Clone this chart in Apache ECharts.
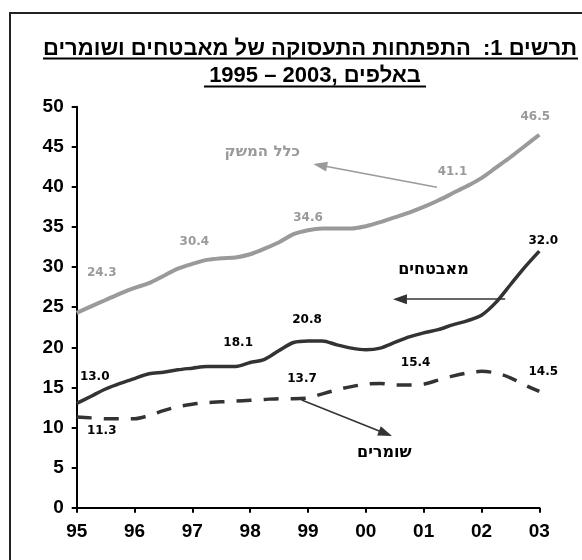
<!DOCTYPE html>
<html><head><meta charset="utf-8">
<script src="https://cdn.jsdelivr.net/npm/echarts@6/dist/echarts.min.js"></script>
<style>html,body{margin:0;padding:0;background:#fff}#c{width:582px;height:560px}</style>
</head><body><div id="c"></div>
<script>
// ---- data ----
const xTickLabels = ['95','96','97','98','99','00','01','02','03'];
const seriesNames = ['כלל המשק','מאבטחים','שומרים'];
const titleLine1 = 'תרשים 1:  התפתחות התעסוקה של מאבטחים ושומרים';
const titleLine2 = '1995 – 2003, באלפים';
// quarterly values, 1995 .. 2003 (33 points)
const totalEconomy = [24.3,25.1,25.9,26.7,27.4,28.0,28.9,29.8,30.4,30.9,31.1,31.2,31.6,32.3,33.1,34.1,34.6,34.8,34.8,34.8,35.1,35.6,36.2,36.8,37.5,38.3,39.2,40.1,41.1,42.4,43.7,45.1,46.5];
const securityGuards = [13.0,13.9,14.8,15.5,16.1,16.7,16.9,17.2,17.4,17.6,17.6,17.6,18.1,18.5,19.6,20.6,20.8,20.8,20.3,19.9,19.7,19.9,20.6,21.3,21.8,22.2,22.8,23.3,24.0,25.6,27.8,30.0,32.0];
const watchmen = [11.3,11.2,11.1,11.1,11.1,11.5,12.1,12.6,12.9,13.1,13.2,13.3,13.4,13.5,13.6,13.6,13.7,14.2,14.7,15.1,15.4,15.5,15.3,15.3,15.4,15.9,16.4,16.8,17.0,16.8,16.2,15.3,14.5];
// indexes of labelled points
const totalLabelIdx = [0,8,16,28,32];
const guardsLabelIdx = [0,12,16,32];
const watchLabelIdx = [0,16,24,32];

// ---- styling / placement ----
const labelOffsets = {
  total: {0:[25,-40],8:[2,-22],16:[0,-12],28:[-29,-6],32:[-4,-18]},
  guards: {0:[18,-27],12:[-12,-20],16:[-1,-21],32:[4,-10]},
  watch: {0:[25,14],16:[-6,-19],24:[-8,-21],32:[4,-20]}
};
const labelFont = 'DejaVu Sans';
const titleFont = 'bold 22px "Liberation Sans", Arial, sans-serif';
function makeData(vals, idxs, offs, color){
  return vals.map((v,i)=>{
    const item = {value:[i/4, v]};
    if (idxs.indexOf(i) >= 0) {
      item.label = {show:true, position:'inside', offset:offs[i], formatter: p => p.value[1].toFixed(1),
        color: color, fontFamily: labelFont, fontWeight:'bold', fontSize:12};
    }
    return item;
  });
}
const grayC = '#9a9a9a', darkC = '#333333';
const chart = echarts.init(document.getElementById('c'), null, {renderer:'canvas'});
function arrow(from, to, color){
  return {
    silent:true, animation:false,
    symbol:['none','triangle'], symbolSize:[10,14],
    label:{show:false},
    lineStyle:{color:color, width:1.5, type:'solid'},
    itemStyle:{color:color},
    data:[[{coord:from},{coord:to}]]
  };
}
function nameMark(coord, text, color, size){
  return {
    silent:true, animation:false, symbol:'circle', symbolSize:0,
    data:[{coord:coord, value:text, label:{show:true, position:'inside', formatter:text, color:color,
      fontFamily:labelFont, fontWeight:'bold', fontSize:size}}]
  };
}
const option = {
  animation:false,
  backgroundColor:'#fff',
  graphic:[
    {type:'rect', shape:{x:10, y:13, width:620, height:600}, style:{fill:'none', stroke:'#222', lineWidth:2}, silent:true},
    {type:'text', x:310, y:37.5, style:{text:titleLine1, textAlign:'center', fill:'#000', font:titleFont}},
    {type:'text', x:315, y:65, style:{text:titleLine2, textAlign:'center', fill:'#000', font:titleFont}},
    {type:'line', shape:{x1:43, y1:58.5, x2:578, y2:58.5}, style:{stroke:'#000', lineWidth:2}},
    {type:'line', shape:{x1:204, y1:86.5, x2:426, y2:86.5}, style:{stroke:'#000', lineWidth:2}}
  ],
  grid:{left:76.7, right:42.7, top:106.7, bottom:52.3, containLabel:false},
  xAxis:{type:'value', min:0, max:8, interval:1,
    axisLine:{show:true, onZero:false, lineStyle:{color:'#000', width:2}},
    axisTick:{show:true, inside:false, length:5, lineStyle:{color:'#000', width:2}},
    splitLine:{show:false},
    axisLabel:{margin:15, formatter:v=>xTickLabels[v], color:'#000', fontFamily:'Liberation Sans', fontWeight:'bold', fontSize:19}
  },
  yAxis:{type:'value', min:0, max:50, interval:5,
    axisLine:{show:true, lineStyle:{color:'#000', width:2}},
    axisTick:{show:true, inside:false, length:5, lineStyle:{color:'#000', width:2}},
    splitLine:{show:false},
    axisLabel:{margin:13, color:'#000', fontFamily:'Liberation Sans', fontWeight:'bold', fontSize:19}
  },
  series:[
    {name:seriesNames[0], type:'line', smooth:0.3, showSymbol:true, showAllSymbol:true, symbol:'circle', symbolSize:0,
      lineStyle:{color:grayC, width:4}, itemStyle:{color:grayC},
      data:makeData(totalEconomy, totalLabelIdx, labelOffsets.total, grayC),
      markLine:arrow([6.23,39.95],[4.21,42.70],grayC),
      markPoint:nameMark([3.21,44.4], seriesNames[0], grayC, 15), z:2},
    {name:seriesNames[1], type:'line', smooth:0.3, showSymbol:true, showAllSymbol:true, symbol:'circle', symbolSize:0,
      lineStyle:{color:darkC, width:3.5}, itemStyle:{color:darkC},
      data:makeData(securityGuards, guardsLabelIdx, labelOffsets.guards, '#000'),
      markLine:arrow([7.41,26.0],[5.59,26.0],darkC),
      markPoint:nameMark([6.17,29.64], seriesNames[1], '#000', 16), z:3},
    {name:seriesNames[2], type:'line', smooth:0.3, showSymbol:true, showAllSymbol:true, symbol:'circle', symbolSize:0,
      lineStyle:{color:darkC, width:3.5, type:[15,12]}, itemStyle:{color:darkC},
      data:makeData(watchmen, watchLabelIdx, labelOffsets.watch, '#000'),
      markLine:arrow([3.89,13.43],[5.34,9.26],darkC),
      markPoint:nameMark([5.32,6.9], seriesNames[2], '#000', 16), z:3}
  ]
};
chart.setOption(option);
</script></body></html>
